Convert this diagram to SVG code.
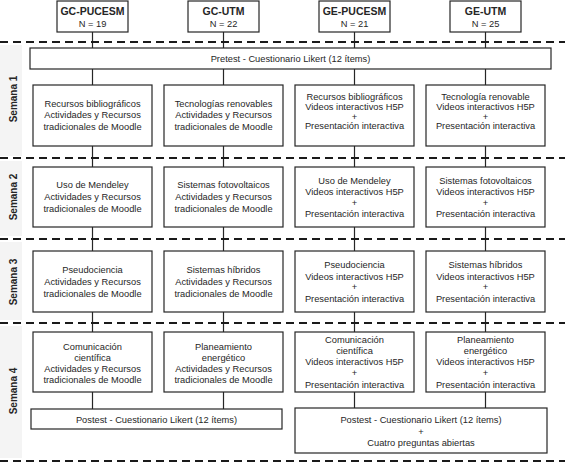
<svg xmlns="http://www.w3.org/2000/svg" width="565" height="464" viewBox="0 0 565 464">
<style>
.bx{fill:#fff;stroke:#262626;stroke-width:1.2}
.t{font-family:"Liberation Sans",Arial,sans-serif;font-size:9.3px;fill:#262626;text-anchor:middle}
.h{font-family:"Liberation Sans",Arial,sans-serif;font-size:10.5px;font-weight:bold;fill:#262626;text-anchor:middle}
.w{font-family:"Liberation Sans",Arial,sans-serif;font-size:10px;font-weight:bold;fill:#262626;text-anchor:middle}
.dash{stroke:#1a1a1a;stroke-width:2;stroke-dasharray:8 5;fill:none}
.ln{stroke:#262626;stroke-width:1.2;fill:none}
.strip{fill:#f4f4f4}
</style>
<rect width="565" height="464" fill="#fff"/>
<g id="strips">
<rect class="strip" x="0" y="45" width="22" height="111"/>
<rect class="strip" x="0" y="161" width="22" height="75"/>
<rect class="strip" x="0" y="242" width="22" height="78"/>
<rect class="strip" x="0" y="326" width="22" height="132"/>
</g>
<g id="week-labels">
<text class="w" transform="translate(16.5,99) rotate(-90)">Semana 1</text>
<text class="w" transform="translate(16.5,197) rotate(-90)">Semana 2</text>
<text class="w" transform="translate(16.5,282) rotate(-90)">Semana 3</text>
<text class="w" transform="translate(16.5,391) rotate(-90)">Semana 4</text>
</g>
<g id="connectors">
<path class="ln" d="M92.5 32V48M223.5 32V48M354.5 32V48M485.5 32V48"/>
<path class="ln" d="M92.5 69V85M223.5 69V85M354.5 69V85M485.5 69V85"/>
<path class="ln" d="M92.5 146V167M223.5 146V167M354.5 146V167M485.5 146V167"/>
<path class="ln" d="M92.5 227V251M223.5 227V251M354.5 227V251M485.5 227V251"/>
<path class="ln" d="M92.5 312V332M223.5 312V332M354.5 312V332M485.5 312V332"/>
<path class="ln" d="M92.5 392V409M223.5 392V409M354.5 392V408M485.5 392V408"/>
</g>
<g id="dividers">
<line class="dash" x1="0" y1="42" x2="565" y2="42"/>
<line class="dash" x1="0" y1="158" x2="565" y2="158"/>
<line class="dash" x1="0" y1="239" x2="565" y2="239"/>
<line class="dash" x1="0" y1="323" x2="565" y2="323"/>
<line class="dash" x1="0" y1="461" x2="565" y2="461"/>
</g>
<g id="gc-pucesm"><rect class="bx" x="57" y="1" width="71" height="31"/><text class="h" x="92.5" y="15">GC-PUCESM</text><text class="t" x="92.5" y="27">N = 19</text></g>
<g id="gc-utm"><rect class="bx" x="188" y="1" width="71" height="31"/><text class="h" x="223.5" y="15">GC-UTM</text><text class="t" x="223.5" y="27">N = 22</text></g>
<g id="ge-pucesm"><rect class="bx" x="319" y="1" width="71" height="31"/><text class="h" x="354.5" y="15">GE-PUCESM</text><text class="t" x="354.5" y="27">N = 21</text></g>
<g id="ge-utm"><rect class="bx" x="450" y="1" width="71" height="31"/><text class="h" x="485.5" y="15">GE-UTM</text><text class="t" x="485.5" y="27">N = 25</text></g>
<g id="pretest"><rect class="bx" x="30" y="48" width="521" height="21"/><text class="t" x="290.5" y="62">Pretest - Cuestionario Likert (12 ítems)</text></g>
<g id="s1-gc-pucesm"><rect class="bx" x="33" y="85" width="119" height="61"/><text class="t" x="92.5" y="106.5">Recursos bibliográficos</text><text class="t" x="92.5" y="118">Actividades y Recursos</text><text class="t" x="92.5" y="129.5">tradicionales de Moodle</text></g>
<g id="s1-gc-utm"><rect class="bx" x="164" y="85" width="119" height="61"/><text class="t" x="223.5" y="106.5">Tecnologías renovables</text><text class="t" x="223.5" y="118">Actividades y Recursos</text><text class="t" x="223.5" y="129.5">tradicionales de Moodle</text></g>
<g id="s1-ge-pucesm"><rect class="bx" x="295" y="85" width="119" height="61"/><text class="t" x="354.5" y="100">Recursos bibliográficos</text><text class="t" x="354.5" y="110">Videos interactivos H5P</text><text class="t" x="354.5" y="119.5">+</text><text class="t" x="354.5" y="129">Presentación interactiva</text></g>
<g id="s1-ge-utm"><rect class="bx" x="426" y="85" width="119" height="61"/><text class="t" x="485.5" y="100">Tecnología renovable</text><text class="t" x="485.5" y="110">Videos interactivos H5P</text><text class="t" x="485.5" y="119.5">+</text><text class="t" x="485.5" y="129">Presentación interactiva</text></g>
<g id="s2-gc-pucesm"><rect class="bx" x="33" y="167" width="119" height="60"/><text class="t" x="92.5" y="188">Uso de Mendeley</text><text class="t" x="92.5" y="199.5">Actividades y Recursos</text><text class="t" x="92.5" y="211.5">tradicionales de Moodle</text></g>
<g id="s2-gc-utm"><rect class="bx" x="164" y="167" width="119" height="60"/><text class="t" x="223.5" y="188">Sistemas fotovoltaicos</text><text class="t" x="223.5" y="199.5">Actividades y Recursos</text><text class="t" x="223.5" y="211.5">tradicionales de Moodle</text></g>
<g id="s2-ge-pucesm"><rect class="bx" x="295" y="167" width="119" height="60"/><text class="t" x="354.5" y="183.5">Uso de Mendeley</text><text class="t" x="354.5" y="195">Videos interactivos H5P</text><text class="t" x="354.5" y="205.5">+</text><text class="t" x="354.5" y="217">Presentación interactiva</text></g>
<g id="s2-ge-utm"><rect class="bx" x="426" y="167" width="119" height="60"/><text class="t" x="485.5" y="183.5">Sistemas fotovoltaicos</text><text class="t" x="485.5" y="195">Videos interactivos H5P</text><text class="t" x="485.5" y="205.5">+</text><text class="t" x="485.5" y="217">Presentación interactiva</text></g>
<g id="s3-gc-pucesm"><rect class="bx" x="33" y="251" width="119" height="61"/><text class="t" x="92.5" y="273">Pseudociencia</text><text class="t" x="92.5" y="284.5">Actividades y Recursos</text><text class="t" x="92.5" y="296.5">tradicionales de Moodle</text></g>
<g id="s3-gc-utm"><rect class="bx" x="164" y="251" width="119" height="61"/><text class="t" x="223.5" y="273">Sistemas híbridos</text><text class="t" x="223.5" y="284.5">Actividades y Recursos</text><text class="t" x="223.5" y="296.5">tradicionales de Moodle</text></g>
<g id="s3-ge-pucesm"><rect class="bx" x="295" y="251" width="119" height="61"/><text class="t" x="354.5" y="267.5">Pseudociencia</text><text class="t" x="354.5" y="279.5">Videos interactivos H5P</text><text class="t" x="354.5" y="290">+</text><text class="t" x="354.5" y="301.5">Presentación interactiva</text></g>
<g id="s3-ge-utm"><rect class="bx" x="426" y="251" width="119" height="61"/><text class="t" x="485.5" y="267.5">Sistemas híbridos</text><text class="t" x="485.5" y="279.5">Videos interactivos H5P</text><text class="t" x="485.5" y="290">+</text><text class="t" x="485.5" y="301.5">Presentación interactiva</text></g>
<g id="s4-gc-pucesm"><rect class="bx" x="33" y="332" width="119" height="60"/><text class="t" x="92.5" y="350">Comunicación</text><text class="t" x="92.5" y="361">científica</text><text class="t" x="92.5" y="372">Actividades y Recursos</text><text class="t" x="92.5" y="383">tradicionales de Moodle</text></g>
<g id="s4-gc-utm"><rect class="bx" x="164" y="332" width="119" height="60"/><text class="t" x="223.5" y="350">Planeamiento</text><text class="t" x="223.5" y="361">energético</text><text class="t" x="223.5" y="372">Actividades y Recursos</text><text class="t" x="223.5" y="383">tradicionales de Moodle</text></g>
<g id="s4-ge-pucesm"><rect class="bx" x="295" y="332" width="119" height="60"/><text class="t" x="354.5" y="343">Comunicación</text><text class="t" x="354.5" y="354">científica</text><text class="t" x="354.5" y="365">Videos interactivos H5P</text><text class="t" x="354.5" y="375.5">+</text><text class="t" x="354.5" y="387.5">Presentación interactiva</text></g>
<g id="s4-ge-utm"><rect class="bx" x="426" y="332" width="119" height="60"/><text class="t" x="485.5" y="343">Planeamiento</text><text class="t" x="485.5" y="354">energético</text><text class="t" x="485.5" y="365">Videos interactivos H5P</text><text class="t" x="485.5" y="375.5">+</text><text class="t" x="485.5" y="387.5">Presentación interactiva</text></g>
<g id="postest-gc"><rect class="bx" x="31" y="409" width="251" height="20"/><text class="t" x="156.5" y="422.5">Postest - Cuestionario Likert (12 ítems)</text></g>
<g id="postest-ge"><rect class="bx" x="295" y="408" width="252" height="45"/><text class="t" x="421" y="423">Postest - Cuestionario Likert (12 ítems)</text><text class="t" x="421" y="434.5">+</text><text class="t" x="421" y="446">Cuatro preguntas abiertas</text></g>
</svg>
